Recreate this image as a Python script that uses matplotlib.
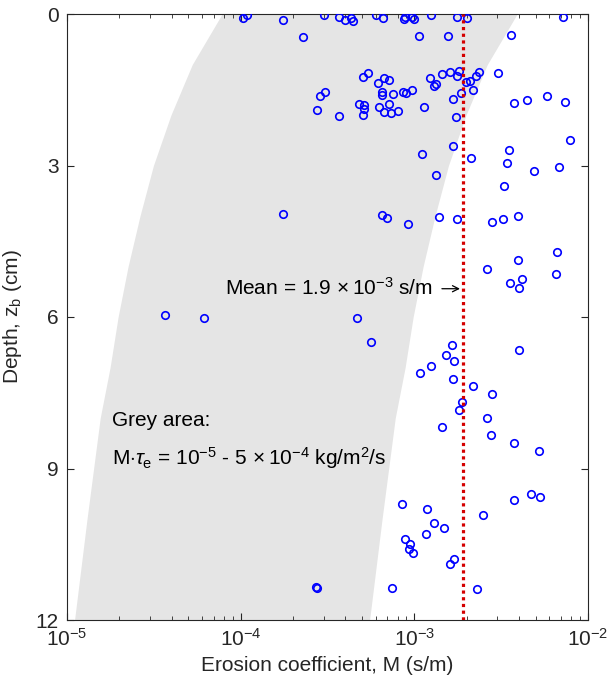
import numpy as np
import matplotlib
matplotlib.use("Agg")
import matplotlib.pyplot as plt
from matplotlib.ticker import LogLocator, NullFormatter, FixedLocator

plt.rcParams['font.family'] = ['Liberation Sans', 'DejaVu Sans']
plt.rcParams['mathtext.fontset'] = 'custom'
plt.rcParams['mathtext.rm'] = 'Liberation Sans'
plt.rcParams['mathtext.it'] = 'Liberation Sans:italic'
plt.rcParams['mathtext.bf'] = 'Liberation Sans:bold'

# ---- data ----
# critical erosion stress profile (Pa) defining the grey band
tau_depth = [0, 1, 2, 3, 4, 5, 6, 7, 8, 10, 12]
tau_e = [0.128, 0.19, 0.252, 0.318, 0.38, 0.445, 0.508, 0.565, 0.644, 0.767, 0.905]
Mtau_low = 1e-5
Mtau_high = 5e-4

M = [1.035e-4, 1.09e-4, 1.746e-4, 2.28e-4, 3.00e-4, 3.66e-4, 3.98e-4, 4.30e-4, 4.42e-4,
     6.01e-4, 6.62e-4, 8.67e-4, 8.87e-4, 9.73e-4, 9.96e-4, 1.24e-3, 1.77e-3, 2.02e-3, 7.15e-3,
     1.067e-3, 1.56e-3, 3.58e-3,
     5.08e-4, 5.43e-4, 6.19e-4, 6.71e-4, 7.18e-4, 6.49e-4, 6.50e-4, 7.57e-4, 8.55e-4, 8.95e-4,
     9.64e-4, 1.23e-3, 1.30e-3, 1.33e-3, 1.435e-3, 1.60e-3, 1.75e-3, 1.82e-3, 1.99e-3, 2.08e-3,
     2.26e-3, 2.36e-3, 1.85e-3, 2.17e-3, 1.67e-3, 3.05e-3, 3.74e-3, 4.47e-3, 5.82e-3, 7.40e-3,
     4.81e-4, 5.11e-4, 5.13e-4, 5.08e-4, 6.26e-4, 7.16e-4, 6.65e-4, 7.36e-4, 8.07e-4, 1.135e-3,
     1.73e-3, 3.05e-4, 2.85e-4, 2.75e-4, 3.70e-4,
     1.66e-3, 2.12e-3, 1.10e-3, 1.34e-3, 3.49e-3, 7.83e-3, 3.43e-3, 4.90e-3, 6.79e-3, 3.28e-3,
     1.746e-4, 6.49e-4, 6.94e-4, 9.25e-4, 1.39e-3, 1.77e-3, 2.81e-3, 3.22e-3, 3.96e-3,
     6.59e-3, 3.95e-3, 2.62e-3, 6.53e-3, 4.18e-3, 3.54e-3, 4.00e-3,
     3.66e-5, 6.12e-5, 4.65e-4, 5.62e-4, 1.65e-3, 1.53e-3, 1.70e-3, 4.03e-3,
     1.25e-3, 1.08e-3, 1.66e-3, 2.18e-3, 2.81e-3, 1.87e-3, 1.82e-3, 2.61e-3, 1.435e-3,
     2.76e-3, 3.76e-3, 5.21e-3, 4.69e-3, 5.28e-3, 3.76e-3, 2.47e-3,
     8.51e-4, 1.19e-3, 1.30e-3, 1.48e-3, 1.17e-3, 8.87e-4, 9.46e-4, 9.35e-4, 9.86e-4,
     1.70e-3, 1.61e-3, 7.46e-4, 2.30e-3, 2.70e-4, 2.74e-4]
depth = [0.085, 0.01, 0.115, 0.446, 0.02, 0.053, 0.125, 0.085, 0.139,
         0.02, 0.085, 0.105, 0.065, 0.065, 0.099, 0.02, 0.065, 0.085, 0.053,
         0.436, 0.436, 0.416,
         1.242, 1.174, 1.372, 1.273, 1.307, 1.539, 1.604, 1.590, 1.539, 1.570,
         1.511, 1.261, 1.416, 1.386, 1.192, 1.149, 1.218, 1.119, 1.350, 1.323,
         1.228, 1.154, 1.570, 1.499, 1.687, 1.174, 1.756, 1.703, 1.618, 1.743,
         1.792, 1.806, 1.875, 2.0, 1.836, 1.778, 1.944, 1.970, 1.917, 1.848,
         2.040, 1.550, 1.618, 1.895, 2.020,
         2.614, 2.857, 2.772, 3.194, 2.693, 2.501, 2.950, 3.115, 3.030, 3.406,
         3.960, 3.980, 4.030, 4.158, 4.010, 4.050, 4.123, 4.069, 4.0,
         4.707, 4.877, 5.055, 5.149, 5.242, 5.327, 5.420,
         5.954, 6.014, 6.026, 6.489, 6.560, 6.752, 6.865, 6.659,
         6.976, 7.103, 7.228, 7.366, 7.519, 7.677, 7.838, 7.996, 8.172,
         8.337, 8.489, 8.648, 9.511, 9.558, 9.624, 9.927,
         9.709, 9.808, 10.073, 10.178, 10.291, 10.390, 10.489, 10.588, 10.679,
         10.786, 10.897, 11.372, 11.386, 11.34, 11.36]
mean_M = 1.9e-3

x_ticks = [1e-5, 1e-4, 1e-3, 1e-2]
y_ticks = [0, 3, 6, 9, 12]

# ---- figure ----
fig = plt.figure(figsize=(6.09, 6.95), dpi=100)
ax = fig.add_axes([67/609, 1 - 620/695, 521/609, 606/695])

tau = np.array(tau_e)
ax.fill_betweenx(tau_depth, Mtau_low / tau, Mtau_high / tau,
                 color='#e5e5e5', linewidth=0, zorder=1)

ax.plot(M, depth, linestyle='none', marker='o', markersize=5.4,
        markerfacecolor='none', markeredgecolor='#0000ff',
        markeredgewidth=1.2, zorder=3)

ax.axvline(mean_M, color='#d40000', linewidth=2.3, linestyle=(0, (1, 1.1)), zorder=4)

ax.set_xscale('log')
ax.set_xlim(1e-5, 1e-2)
ax.set_ylim(12, 0)
ax.xaxis.set_major_locator(FixedLocator(x_ticks))
ax.xaxis.set_minor_locator(LogLocator(base=10, subs=np.arange(2, 10)))
ax.xaxis.set_minor_formatter(NullFormatter())
ax.set_yticks(y_ticks)

dark = '#262626'
for s in ax.spines.values():
    s.set_color(dark)
    s.set_linewidth(0.8)
ax.tick_params(which='both', direction='in', top=True, right=True,
               colors=dark, labelsize=15)
ax.tick_params(which='major', length=5, width=0.8, pad=6)
ax.tick_params(which='minor', length=2.6, width=0.6)

ax.set_xlabel('Erosion coefficient, M (s/m)', fontsize=15, color=dark, labelpad=4)
ax.set_ylabel('Depth, z$_\\mathregular{b}$ (cm)', fontsize=15, color=dark)
ax.yaxis.set_label_coords(-0.083, 0.5)

# mean label with thin arrow pointing at the mean line
ax.annotate('', xy=(mean_M, 5.44), xytext=(-15, 0), textcoords='offset points',
            arrowprops=dict(arrowstyle='->', lw=0.9, color='black',
                            shrinkA=0, shrinkB=2, mutation_scale=11), zorder=5)
ax.annotate('Mean = 1.9$\\,\\times$10$^{-3}$ s/m',
            xy=(mean_M, 5.56), xytext=(-21.5, 0), textcoords='offset points',
            ha='right', va='baseline', fontsize=15, color='black', zorder=5)

ax.text(1.82e-5, 8.16, 'Grey area:', fontsize=15, va='baseline', color='black')
ax.text(1.82e-5, 8.93,
        'M$\\cdot\\tau_{\\mathregular{e}}$ = 10$^{-5}$ - 5$\\,\\times$10$^{-4}$ kg/m$^2$/s',
        fontsize=15, va='baseline', color='black')

fig.savefig('out.png', dpi=100)
